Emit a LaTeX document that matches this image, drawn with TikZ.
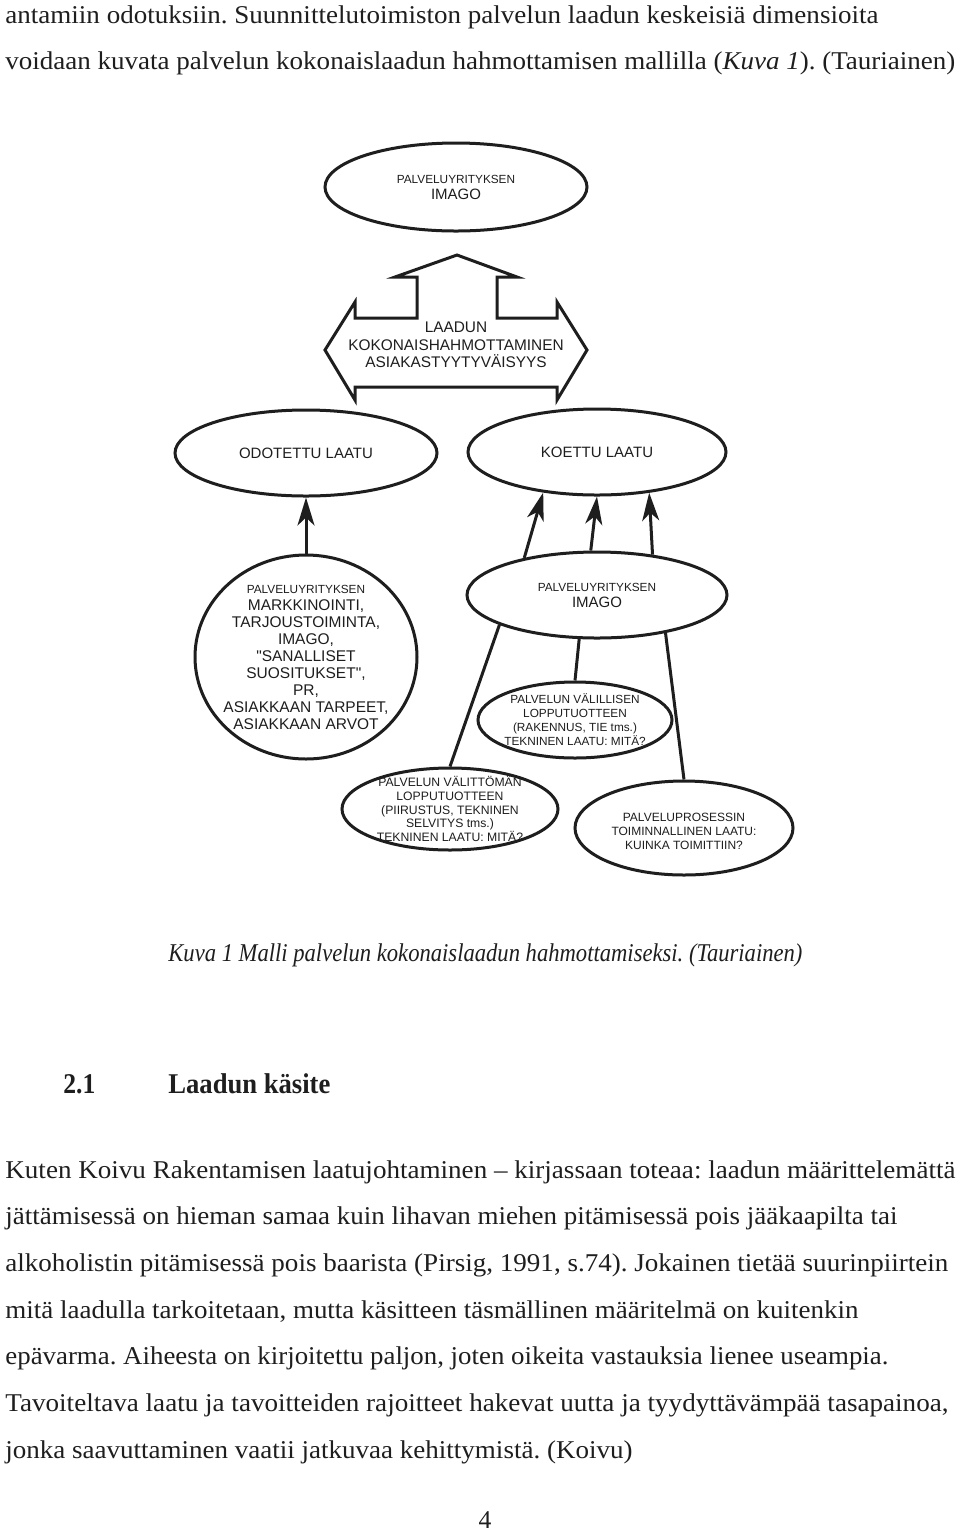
\documentclass[tikz,border=0pt]{standalone}
\usepackage{fontspec}
\usepackage{graphicx}
\setmainfont{Liberation Serif}
\newfontfamily\diagfont{Liberation Sans}
\usetikzlibrary{arrows.meta,shapes.geometric,calc}
\definecolor{ink}{HTML}{1e1e1e}
\frenchspacing
\newcommand\fsz[2]{\fontsize{#1}{#2}\selectfont}
\newcommand\fitline[2]{\resizebox{#1}{\height}{#2}}
\tikzset{
  oval/.style={ellipse,draw=ink,line width=1.5pt,inner sep=0pt},
  caps/.style={font=\diagfont,align=center,inner sep=0pt,text=ink},
  upar/.style={-{Stealth[length=14pt,width=8.5pt,inset=4pt]},line width=1.5pt,ink},
  link/.style={line width=1.5pt,ink},
  txt/.style={anchor=base west,inner sep=0pt,text=ink,font=\fsz{12.8}{15}},
}

\begin{document}
\begin{tikzpicture}[x=0.5pt,y=-0.5pt]
  \useasboundingbox (0,0) rectangle (960,1533);
  \fill[white] (0,0) rectangle (960,1533);
  % text above the figure
  \node[txt] (top1) at (5,23.5) {\fitline{436.5pt}{antamiin odotuksiin. Suunnittelutoimiston palvelun laadun keskeisiä dimensioita}};
  \node[txt] (top2) at (5,69) {\fitline{475pt}{voidaan kuvata palvelun kokonaislaadun hahmottamisen mallilla (\textit{Kuva 1}). (Tauriainen)}};
  % figure
  \node[oval,minimum width=131pt,minimum height=44pt] (img) at (456,187) {};
  \node[caps,font=\diagfont\fsz{7.5}{8}] at (img) {{\fsz{5.9}{8}PALVELUYRITYKSEN}\\IMAGO};
  \draw[link,line join=miter,fill=white] (325,350) -- (355,302) -- (355,318) -- (417,318) -- (417,277)
     -- (395,277) -- (457,255) -- (517,277) -- (497,277) -- (497,318) -- (557,318) -- (557,302)
     -- (587,350) -- (557,400) -- (557,387) -- (355,387) -- (355,400) -- cycle;
  \node[caps,font=\diagfont\fsz{7.7}{8.75}] (kok) at (456,345) {LAADUN\\KOKONAISHAHMOTTAMINEN\\ASIAKASTYYTYVÄISYYS};
  \node[oval,minimum width=131pt,minimum height=43pt] (odot) at (306,453) {};
  \node[caps,font=\diagfont\fsz{7.5}{8}] at (odot) {ODOTETTU LAATU};
  \node[oval,minimum width=129pt,minimum height=43pt] (koet) at (597,452) {};
  \node[caps,font=\diagfont\fsz{7.5}{8}] at (koet) {KOETTU LAATU};
  \node[oval,minimum width=111pt,minimum height=102pt] (markk) at (306,657) {};
  \node[caps,font=\diagfont\fsz{7.75}{8.5}] at (markk) {{\fsz{5.9}{8.5}PALVELUYRITYKSEN}\\MARKKINOINTI,\\TARJOUSTOIMINTA,\\IMAGO,\\"SANALLISET\\SUOSITUKSET",\\PR,\\ASIAKKAAN TARPEET,\\ASIAKKAAN ARVOT};
  \node[oval,minimum width=130pt,minimum height=43pt] (img2) at (597,595) {};
  \node[caps,font=\diagfont\fsz{7.5}{8}] at (img2) {{\fsz{5.9}{8}PALVELUYRITYKSEN}\\IMAGO};
  \node[oval,minimum width=97pt,minimum height=38pt] (vlil) at (575,720) {};
  \node[caps,font=\diagfont\fsz{5.9}{7}] at (vlil) {PALVELUN VÄLILLISEN\\LOPPUTUOTTEEN\\(RAKENNUS, TIE tms.)\\TEKNINEN LAATU: MITÄ?};
  \node[oval,minimum width=108pt,minimum height=41pt] (vlit) at (450,809) {};
  \node[caps,font=\diagfont\fsz{6.1}{6.9}] at (vlit) {PALVELUN VÄLITTÖMÄN\\LOPPUTUOTTEEN\\(PIIRUSTUS, TEKNINEN\\SELVITYS tms.)\\TEKNINEN LAATU: MITÄ?};
  \node[oval,minimum width=109pt,minimum height=47pt] (pros) at (684,828) {};
  \node[caps,font=\diagfont\fsz{6}{7}] at ($(pros)+(0,3)$) {PALVELUPROSESSIN\\TOIMINNALLINEN LAATU:\\KUINKA TOIMITTIIN?};
  % arrows and links
  \draw[upar] (markk.north) -- (odot.south);
  \draw[upar] (img2.153) -- (koet.217);
  \draw[upar] (img2.98) -- (koet.270);
  \draw[upar] (img2.36) -- (koet.322);
  \draw[link] (img2.197) -- (vlit.north);
  \draw[link] (img2.248) -- (vlil.north);
  \draw[link] (img2.331) -- (pros.north);
  % caption, heading, body text
  \node[txt,font=\itshape\fsz{12.8}{15}] (cap) at (168,961) {\fitline{317pt}{Kuva 1 Malli palvelun kokonaislaadun hahmottamiseksi. (Tauriainen)}};
  \node[txt,font=\bfseries\fsz{14.3}{16}] (secnum) at (63,1093) {\fitline{16pt}{2.1}};
  \node[txt,font=\bfseries\fsz{14.3}{16}] (sectitle) at (168,1093) {\fitline{81pt}{Laadun käsite}};
  \foreach \w/\t [count=\i from 0] in {
      475/{Kuten Koivu Rakentamisen laatujohtaminen – kirjassaan toteaa: laadun määrittelemättä},
      446/{jättämisessä on hieman samaa kuin lihavan miehen pitämisessä pois jääkaapilta tai},
      471.5/{alkoholistin pitämisessä pois baarista (Pirsig, 1991, s.74). Jokainen tietää suurinpiirtein},
      426.5/{mitä laadulla tarkoitetaan, mutta käsitteen täsmällinen määritelmä on kuitenkin},
      441.5/{epävarma. Aiheesta on kirjoitettu paljon, joten oikeita vastauksia lienee useampia.},
      471.5/{Tavoiteltava laatu ja tavoitteiden rajoitteet hakevat uutta ja tyydyttävämpää tasapainoa,},
      313.5/{jonka saavuttaminen vaatii jatkuvaa kehittymistä. (Koivu)}}
    {\node[txt] (body\i) at (5,{1178+46.67*\i}) {\fitline{\w pt}{\t}};}
  \node[txt,anchor=base] (pnum) at (485,1528) {4};
\end{tikzpicture}
\end{document}
